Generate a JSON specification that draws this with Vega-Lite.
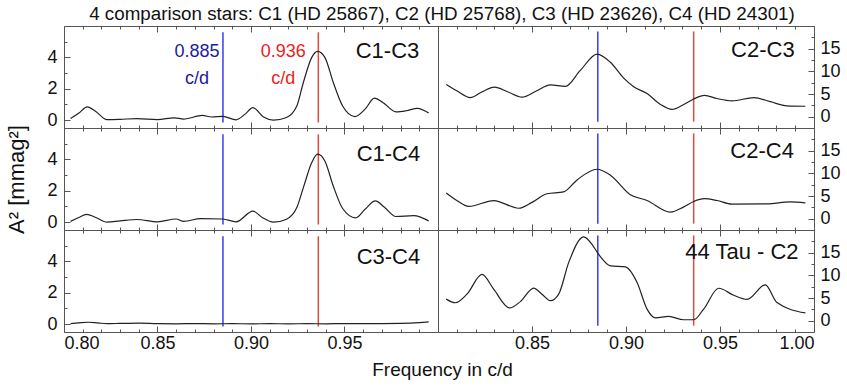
{
  "$schema": "https://vega.github.io/schema/vega-lite/v6.json",
  "background": "white",
  "padding": 5,
  "title": {"text": "4 comparison stars: C1 (HD 25867), C2 (HD 25768), C3 (HD 23626), C4 (HD 24301)", "fontSize": 18.8, "fontWeight": "normal", "font": "Liberation Sans", "color": "#111", "offset": 1, "anchor": "middle", "dx": 19},
  "columns": 2,
  "spacing": 0,
  "bounds": "flush",
  "datasets": {
    "c13": [{"f":0.8035,"a":0.10},{"f":0.808,"a":0.45},{"f":0.8124,"a":0.85},{"f":0.817,"a":0.55},{"f":0.823,"a":0.03},{"f":0.830,"a":0.05},{"f":0.839,"a":0.10},{"f":0.850,"a":0.04},{"f":0.859,"a":0.15},{"f":0.864,"a":0.07},{"f":0.874,"a":0.30},{"f":0.879,"a":0.20},{"f":0.885,"a":0.24},{"f":0.892,"a":0.02},{"f":0.897,"a":0.40},{"f":0.901,"a":0.80},{"f":0.9067,"a":0.20},{"f":0.912,"a":0.0},{"f":0.919,"a":0.17},{"f":0.9245,"a":0.9},{"f":0.928,"a":2.4},{"f":0.9325,"a":4.0},{"f":0.9356,"a":4.38},{"f":0.9395,"a":4.0},{"f":0.944,"a":2.4},{"f":0.949,"a":0.9},{"f":0.9555,"a":0.23},{"f":0.961,"a":0.7},{"f":0.966,"a":1.4},{"f":0.9705,"a":1.13},{"f":0.9775,"a":0.53},{"f":0.983,"a":0.6},{"f":0.989,"a":0.75},{"f":0.995,"a":0.45}],
    "c14": [{"f":0.8035,"a":0.05},{"f":0.808,"a":0.3},{"f":0.812,"a":0.5},{"f":0.817,"a":0.3},{"f":0.823,"a":0.0},{"f":0.830,"a":0.08},{"f":0.839,"a":0.17},{"f":0.850,"a":0.02},{"f":0.860,"a":0.2},{"f":0.864,"a":0.05},{"f":0.873,"a":0.23},{"f":0.885,"a":0.2},{"f":0.892,"a":0.02},{"f":0.901,"a":0.7},{"f":0.906,"a":0.3},{"f":0.912,"a":0.0},{"f":0.919,"a":0.19},{"f":0.9245,"a":0.93},{"f":0.928,"a":2.2},{"f":0.9325,"a":3.8},{"f":0.9356,"a":4.33},{"f":0.9395,"a":3.9},{"f":0.944,"a":2.3},{"f":0.949,"a":0.87},{"f":0.956,"a":0.27},{"f":0.961,"a":0.82},{"f":0.9665,"a":1.35},{"f":0.9715,"a":0.93},{"f":0.9775,"a":0.36},{"f":0.987,"a":0.42},{"f":0.995,"a":0.08}],
    "c34": [{"f":0.8035,"a":0.03},{"f":0.808,"a":0.08},{"f":0.813,"a":0.12},{"f":0.818,"a":0.08},{"f":0.823,"a":0.03},{"f":0.830,"a":0.05},{"f":0.840,"a":0.07},{"f":0.850,"a":0.03},{"f":0.860,"a":0.02},{"f":0.870,"a":0.04},{"f":0.880,"a":0.02},{"f":0.890,"a":0.03},{"f":0.900,"a":0.02},{"f":0.910,"a":0.03},{"f":0.920,"a":0.02},{"f":0.930,"a":0.03},{"f":0.940,"a":0.02},{"f":0.950,"a":0.04},{"f":0.960,"a":0.03},{"f":0.970,"a":0.04},{"f":0.980,"a":0.05},{"f":0.990,"a":0.10},{"f":0.995,"a":0.15}],
    "c23": [{"f":0.8044,"a":7.1},{"f":0.810,"a":5.7},{"f":0.8172,"a":4.2},{"f":0.8235,"a":5.5},{"f":0.830,"a":6.5},{"f":0.837,"a":5.5},{"f":0.8447,"a":4.3},{"f":0.852,"a":5.6},{"f":0.8598,"a":7.0},{"f":0.8677,"a":6.7},{"f":0.8757,"a":10.2},{"f":0.8846,"a":13.8},{"f":0.8917,"a":12.0},{"f":0.8988,"a":8.5},{"f":0.9041,"a":6.6},{"f":0.9112,"a":5.1},{"f":0.9183,"a":2.7},{"f":0.9245,"a":1.6},{"f":0.9307,"a":2.7},{"f":0.936,"a":3.9},{"f":0.9417,"a":4.7},{"f":0.9484,"a":4.0},{"f":0.9564,"a":3.5},{"f":0.968,"a":4.2},{"f":0.9768,"a":3.3},{"f":0.9856,"a":2.4},{"f":0.9954,"a":2.3}],
    "c24": [{"f":0.8044,"a":5.65},{"f":0.810,"a":4.0},{"f":0.8163,"a":2.7},{"f":0.8296,"a":4.0},{"f":0.8429,"a":2.3},{"f":0.850,"a":3.6},{"f":0.858,"a":5.5},{"f":0.8668,"a":5.9},{"f":0.874,"a":8.55},{"f":0.8846,"a":10.9},{"f":0.8917,"a":9.6},{"f":0.9023,"a":5.3},{"f":0.9112,"a":4.0},{"f":0.9236,"a":1.45},{"f":0.9307,"a":2.6},{"f":0.936,"a":3.8},{"f":0.9417,"a":4.4},{"f":0.9484,"a":4.0},{"f":0.9564,"a":3.2},{"f":0.975,"a":3.25},{"f":0.9874,"a":3.7},{"f":0.9954,"a":3.5}],
    "tau": [{"f":0.8044,"a":4.75},{"f":0.8092,"a":3.95},{"f":0.8154,"a":5.85},{"f":0.8234,"a":10.2},{"f":0.8296,"a":6.95},{"f":0.8381,"a":2.8},{"f":0.8438,"a":4.2},{"f":0.8509,"a":7.2},{"f":0.8553,"a":5.85},{"f":0.8598,"a":4.4},{"f":0.8642,"a":5.85},{"f":0.8695,"a":12.8},{"f":0.8775,"a":18.5},{"f":0.882,"a":16.8},{"f":0.8855,"a":14.6},{"f":0.8917,"a":12.1},{"f":0.8997,"a":11.85},{"f":0.9059,"a":8.4},{"f":0.9112,"a":2.55},{"f":0.9157,"a":0.6},{"f":0.9227,"a":0.95},{"f":0.9307,"a":0.2},{"f":0.936,"a":0.2},{"f":0.9413,"a":2.55},{"f":0.9493,"a":7.15},{"f":0.9573,"a":5.6},{"f":0.9644,"a":4.7},{"f":0.9741,"a":7.9},{"f":0.9803,"a":4.0},{"f":0.9954,"a":1.7}],
    "vL": [{"f":0.885,"lo":-0.15,"hi":5.6},{"f":0.936,"lo":-0.15,"hi":5.6}],
    "vR": [{"f":0.885,"lo":-1.1,"hi":18.8},{"f":0.936,"lo":-1.1,"hi":18.8}],
    "ann": [{"f":0.8711,"a":4.35,"t":"0.885","c":"b"},{"f":0.8711,"a":2.6,"t":"c/d","c":"b"},{"f":0.9172,"a":4.35,"t":"0.936","c":"r"},{"f":0.9172,"a":2.6,"t":"c/d","c":"r"}]
  },
  "concat": [
    {
      "width": 374, "height": 102,
      "layer": [
        {"data": {"name": "vL"}, "transform": [{"filter": "datum.f < 0.9"}], "mark": {"type": "rule", "strokeWidth": 1.5, "color": "#3b3bf0"},
         "encoding": {
           "x": {"field": "f", "type": "quantitative", "scale": {"domain": [0.8, 1.0], "nice": false, "zero": false}, "axis": {"orient": "top", "values": [0.81,0.82,0.83,0.84,0.86,0.87,0.88,0.89,0.91,0.92,0.93,0.94,0.96,0.97,0.98,0.99], "labels": false, "title": null, "tickSize": -3}},
           "y": {"field": "lo", "type": "quantitative", "scale": {"domain": [-0.5, 6], "nice": false, "zero": false}, "axis": {"orient": "left", "values": [1,3,5], "labels": false, "title": null, "tickSize": -3}},
           "y2": {"field": "hi"}}},
        {"data": {"name": "vL"}, "transform": [{"filter": "datum.f > 0.9"}], "mark": {"type": "rule", "strokeWidth": 1.5, "color": "#e04a40"},
         "encoding": {
           "x": {"field": "f", "type": "quantitative", "scale": {"domain": [0.8, 1.0], "nice": false, "zero": false}, "axis": {"orient": "top", "values": [0.8,0.85,0.9,0.95,1.0], "labels": false, "title": null, "tickSize": -6}},
           "y": {"field": "lo", "type": "quantitative", "scale": {"domain": [-0.5, 6], "nice": false, "zero": false}, "axis": {"orient": "left", "values": [0,2,4], "labels": false, "title": null, "tickSize": -6}},
           "y2": {"field": "hi"}}},
        {"data": {"name": "c13"}, "mark": {"type": "line", "color": "#222", "strokeWidth": 1.2, "interpolate": "monotone"},
         "encoding": {
           "x": {"field": "f", "type": "quantitative", "scale": {"domain": [0.8, 1.0], "nice": false, "zero": false}, "axis": {"orient": "bottom", "values": [0.8,0.85,0.9,0.95,1.0], "labels": false, "title": null, "tickSize": -6}},
           "y": {"field": "a", "type": "quantitative", "scale": {"domain": [-0.5, 6], "nice": false, "zero": false}, "axis": {"orient": "left", "values": [0,2,4], "title": null, "ticks": false, "labelFontSize": 18, "labelPadding": 7}}}},
        {"data": {"name": "ann"}, "transform": [{"filter": "datum.c == 'b'"}], "mark": {"type": "text", "align": "center", "baseline": "middle", "fontSize": 18, "color": "#1c1ca0"},
         "encoding": {"x": {"field": "f", "type": "quantitative", "scale": {"domain": [0.8, 1.0], "nice": false, "zero": false}, "axis": null}, "y": {"field": "a", "type": "quantitative", "scale": {"domain": [-0.5, 6], "nice": false, "zero": false}, "axis": null}, "text": {"field": "t"}}},
        {"data": {"name": "ann"}, "transform": [{"filter": "datum.c == 'r'"}], "mark": {"type": "text", "align": "center", "baseline": "middle", "fontSize": 18, "color": "#ee1c1c"},
         "encoding": {"x": {"field": "f", "type": "quantitative", "scale": {"domain": [0.8, 1.0], "nice": false, "zero": false}, "axis": null}, "y": {"field": "a", "type": "quantitative", "scale": {"domain": [-0.5, 6], "nice": false, "zero": false}, "axis": null}, "text": {"field": "t"}}},
        {"data": {"values": [{"f": 0.990, "a": 4.4, "t": "C1-C3"}]}, "mark": {"type": "text", "align": "right", "baseline": "middle", "fontSize": 22, "color": "#111"},
         "encoding": {"x": {"field": "f", "type": "quantitative", "scale": {"domain": [0.8, 1.0], "nice": false, "zero": false}, "axis": {"orient": "bottom", "values": [0.81,0.82,0.83,0.84,0.86,0.87,0.88,0.89,0.91,0.92,0.93,0.94,0.96,0.97,0.98,0.99], "labels": false, "title": null, "tickSize": -3}}, "y": {"field": "a", "type": "quantitative", "scale": {"domain": [-0.5, 6], "nice": false, "zero": false}, "axis": null}, "text": {"field": "t"}}}
      ],
      "resolve": {"axis": {"x": "independent", "y": "independent"}}
    },
    {
      "width": 376, "height": 102,
      "layer": [
        {"data": {"name": "vR"}, "transform": [{"filter": "datum.f < 0.9"}], "mark": {"type": "rule", "strokeWidth": 1.5, "color": "#3b3bf0"},
         "encoding": {
           "x": {"field": "f", "type": "quantitative", "scale": {"domain": [0.8, 1.0], "nice": false, "zero": false}, "axis": {"orient": "top", "values": [0.81,0.82,0.83,0.84,0.86,0.87,0.88,0.89,0.91,0.92,0.93,0.94,0.96,0.97,0.98,0.99], "labels": false, "title": null, "tickSize": -3}},
           "y": {"field": "lo", "type": "quantitative", "scale": {"domain": [-2.5, 20], "nice": false, "zero": false}, "axis": {"orient": "right", "values": [2.5,7.5,12.5,17.5], "labels": false, "title": null, "tickSize": -3}},
           "y2": {"field": "hi"}}},
        {"data": {"name": "vR"}, "transform": [{"filter": "datum.f > 0.9"}], "mark": {"type": "rule", "strokeWidth": 1.5, "color": "#e04a40"},
         "encoding": {
           "x": {"field": "f", "type": "quantitative", "scale": {"domain": [0.8, 1.0], "nice": false, "zero": false}, "axis": {"orient": "top", "values": [0.8,0.85,0.9,0.95,1.0], "labels": false, "title": null, "tickSize": -6}},
           "y": {"field": "lo", "type": "quantitative", "scale": {"domain": [-2.5, 20], "nice": false, "zero": false}, "axis": {"orient": "right", "values": [0,5,10,15], "labels": false, "title": null, "tickSize": -6}},
           "y2": {"field": "hi"}}},
        {"data": {"name": "c23"}, "mark": {"type": "line", "color": "#222", "strokeWidth": 1.2, "interpolate": "monotone"},
         "encoding": {
           "x": {"field": "f", "type": "quantitative", "scale": {"domain": [0.8, 1.0], "nice": false, "zero": false}, "axis": {"orient": "bottom", "values": [0.8,0.85,0.9,0.95,1.0], "labels": false, "title": null, "tickSize": -6}},
           "y": {"field": "a", "type": "quantitative", "scale": {"domain": [-2.5, 20], "nice": false, "zero": false}, "axis": {"orient": "right", "values": [0,5,10,15], "title": null, "ticks": false, "labelFontSize": 18, "labelPadding": 6}}}},
        {"data": {"values": [{"f": 0.9897, "a": 14.8, "t": "C2-C3"}]}, "mark": {"type": "text", "align": "right", "baseline": "middle", "fontSize": 22, "color": "#111"},
         "encoding": {"x": {"field": "f", "type": "quantitative", "scale": {"domain": [0.8, 1.0], "nice": false, "zero": false}, "axis": {"orient": "bottom", "values": [0.81,0.82,0.83,0.84,0.86,0.87,0.88,0.89,0.91,0.92,0.93,0.94,0.96,0.97,0.98,0.99], "labels": false, "title": null, "tickSize": -3}}, "y": {"field": "a", "type": "quantitative", "scale": {"domain": [-2.5, 20], "nice": false, "zero": false}, "axis": null}, "text": {"field": "t"}}}
      ],
      "resolve": {"axis": {"x": "independent", "y": "independent"}}
    },
    {
      "width": 374, "height": 102,
      "layer": [
        {"data": {"name": "vL"}, "transform": [{"filter": "datum.f < 0.9"}], "mark": {"type": "rule", "strokeWidth": 1.5, "color": "#3b3bf0"},
         "encoding": {
           "x": {"field": "f", "type": "quantitative", "scale": {"domain": [0.8, 1.0], "nice": false, "zero": false}, "axis": {"orient": "top", "values": [0.81,0.82,0.83,0.84,0.86,0.87,0.88,0.89,0.91,0.92,0.93,0.94,0.96,0.97,0.98,0.99], "labels": false, "title": null, "tickSize": -3}},
           "y": {"field": "lo", "type": "quantitative", "scale": {"domain": [-0.5, 6], "nice": false, "zero": false}, "axis": {"orient": "left", "values": [1,3,5], "labels": false, "title": null, "tickSize": -3}},
           "y2": {"field": "hi"}}},
        {"data": {"name": "vL"}, "transform": [{"filter": "datum.f > 0.9"}], "mark": {"type": "rule", "strokeWidth": 1.5, "color": "#e04a40"},
         "encoding": {
           "x": {"field": "f", "type": "quantitative", "scale": {"domain": [0.8, 1.0], "nice": false, "zero": false}, "axis": {"orient": "top", "values": [0.8,0.85,0.9,0.95,1.0], "labels": false, "title": null, "tickSize": -6}},
           "y": {"field": "lo", "type": "quantitative", "scale": {"domain": [-0.5, 6], "nice": false, "zero": false}, "axis": {"orient": "left", "values": [0,2,4], "labels": false, "title": null, "tickSize": -6}},
           "y2": {"field": "hi"}}},
        {"data": {"name": "c14"}, "mark": {"type": "line", "color": "#222", "strokeWidth": 1.2, "interpolate": "monotone"},
         "encoding": {
           "x": {"field": "f", "type": "quantitative", "scale": {"domain": [0.8, 1.0], "nice": false, "zero": false}, "axis": {"orient": "bottom", "values": [0.8,0.85,0.9,0.95,1.0], "labels": false, "title": null, "tickSize": -6}},
           "y": {"field": "a", "type": "quantitative", "scale": {"domain": [-0.5, 6], "nice": false, "zero": false}, "axis": {"orient": "left", "values": [0,2,4], "title": "A² [mmag²]", "titleFontSize": 22, "titleFontWeight": "normal", "titlePadding": 18, "ticks": false, "labelFontSize": 18, "labelPadding": 7}}}},
        {"data": {"values": [{"f": 0.9905, "a": 4.33, "t": "C1-C4"}]}, "mark": {"type": "text", "align": "right", "baseline": "middle", "fontSize": 22, "color": "#111"},
         "encoding": {"x": {"field": "f", "type": "quantitative", "scale": {"domain": [0.8, 1.0], "nice": false, "zero": false}, "axis": {"orient": "bottom", "values": [0.81,0.82,0.83,0.84,0.86,0.87,0.88,0.89,0.91,0.92,0.93,0.94,0.96,0.97,0.98,0.99], "labels": false, "title": null, "tickSize": -3}}, "y": {"field": "a", "type": "quantitative", "scale": {"domain": [-0.5, 6], "nice": false, "zero": false}, "axis": null}, "text": {"field": "t"}}}
      ],
      "resolve": {"axis": {"x": "independent", "y": "independent"}}
    },
    {
      "width": 376, "height": 102,
      "layer": [
        {"data": {"name": "vR"}, "transform": [{"filter": "datum.f < 0.9"}], "mark": {"type": "rule", "strokeWidth": 1.5, "color": "#3b3bf0"},
         "encoding": {
           "x": {"field": "f", "type": "quantitative", "scale": {"domain": [0.8, 1.0], "nice": false, "zero": false}, "axis": {"orient": "top", "values": [0.81,0.82,0.83,0.84,0.86,0.87,0.88,0.89,0.91,0.92,0.93,0.94,0.96,0.97,0.98,0.99], "labels": false, "title": null, "tickSize": -3}},
           "y": {"field": "lo", "type": "quantitative", "scale": {"domain": [-2.5, 20], "nice": false, "zero": false}, "axis": {"orient": "right", "values": [2.5,7.5,12.5,17.5], "labels": false, "title": null, "tickSize": -3}},
           "y2": {"field": "hi"}}},
        {"data": {"name": "vR"}, "transform": [{"filter": "datum.f > 0.9"}], "mark": {"type": "rule", "strokeWidth": 1.5, "color": "#e04a40"},
         "encoding": {
           "x": {"field": "f", "type": "quantitative", "scale": {"domain": [0.8, 1.0], "nice": false, "zero": false}, "axis": {"orient": "top", "values": [0.8,0.85,0.9,0.95,1.0], "labels": false, "title": null, "tickSize": -6}},
           "y": {"field": "lo", "type": "quantitative", "scale": {"domain": [-2.5, 20], "nice": false, "zero": false}, "axis": {"orient": "right", "values": [0,5,10,15], "labels": false, "title": null, "tickSize": -6}},
           "y2": {"field": "hi"}}},
        {"data": {"name": "c24"}, "mark": {"type": "line", "color": "#222", "strokeWidth": 1.2, "interpolate": "monotone"},
         "encoding": {
           "x": {"field": "f", "type": "quantitative", "scale": {"domain": [0.8, 1.0], "nice": false, "zero": false}, "axis": {"orient": "bottom", "values": [0.8,0.85,0.9,0.95,1.0], "labels": false, "title": null, "tickSize": -6}},
           "y": {"field": "a", "type": "quantitative", "scale": {"domain": [-2.5, 20], "nice": false, "zero": false}, "axis": {"orient": "right", "values": [0,5,10,15], "title": null, "ticks": false, "labelFontSize": 18, "labelPadding": 6}}}},
        {"data": {"values": [{"f": 0.9893, "a": 14.9, "t": "C2-C4"}]}, "mark": {"type": "text", "align": "right", "baseline": "middle", "fontSize": 22, "color": "#111"},
         "encoding": {"x": {"field": "f", "type": "quantitative", "scale": {"domain": [0.8, 1.0], "nice": false, "zero": false}, "axis": {"orient": "bottom", "values": [0.81,0.82,0.83,0.84,0.86,0.87,0.88,0.89,0.91,0.92,0.93,0.94,0.96,0.97,0.98,0.99], "labels": false, "title": null, "tickSize": -3}}, "y": {"field": "a", "type": "quantitative", "scale": {"domain": [-2.5, 20], "nice": false, "zero": false}, "axis": null}, "text": {"field": "t"}}}
      ],
      "resolve": {"axis": {"x": "independent", "y": "independent"}}
    },
    {
      "width": 374, "height": 102,
      "layer": [
        {"data": {"name": "vL"}, "transform": [{"filter": "datum.f < 0.9"}], "mark": {"type": "rule", "strokeWidth": 1.5, "color": "#3b3bf0"},
         "encoding": {
           "x": {"field": "f", "type": "quantitative", "scale": {"domain": [0.8, 1.0], "nice": false, "zero": false}, "axis": {"orient": "top", "values": [0.81,0.82,0.83,0.84,0.86,0.87,0.88,0.89,0.91,0.92,0.93,0.94,0.96,0.97,0.98,0.99], "labels": false, "title": null, "tickSize": -3}},
           "y": {"field": "lo", "type": "quantitative", "scale": {"domain": [-0.5, 6], "nice": false, "zero": false}, "axis": {"orient": "left", "values": [1,3,5], "labels": false, "title": null, "tickSize": -3}},
           "y2": {"field": "hi"}}},
        {"data": {"name": "vL"}, "transform": [{"filter": "datum.f > 0.9"}], "mark": {"type": "rule", "strokeWidth": 1.5, "color": "#e04a40"},
         "encoding": {
           "x": {"field": "f", "type": "quantitative", "scale": {"domain": [0.8, 1.0], "nice": false, "zero": false}, "axis": {"orient": "top", "values": [0.8,0.85,0.9,0.95,1.0], "labels": false, "title": null, "tickSize": -6}},
           "y": {"field": "lo", "type": "quantitative", "scale": {"domain": [-0.5, 6], "nice": false, "zero": false}, "axis": {"orient": "left", "values": [0,2,4], "labels": false, "title": null, "tickSize": -6}},
           "y2": {"field": "hi"}}},
        {"data": {"name": "c34"}, "mark": {"type": "line", "color": "#222", "strokeWidth": 1.2, "interpolate": "monotone"},
         "encoding": {
           "x": {"field": "f", "type": "quantitative", "scale": {"domain": [0.8, 1.0], "nice": false, "zero": false}, "axis": {"orient": "bottom", "values": [0.8,0.85,0.9,0.95], "format": ".2f", "labelFontSize": 18, "labelPadding": 8, "title": "Frequency in c/d", "titleFontSize": 19, "titleFontWeight": "normal", "titleX": 378, "titleAlign": "center", "titlePadding": 8, "tickSize": -6}},
           "y": {"field": "a", "type": "quantitative", "scale": {"domain": [-0.5, 6], "nice": false, "zero": false}, "axis": {"orient": "left", "values": [0,2,4], "title": null, "ticks": false, "labelFontSize": 18, "labelPadding": 7}}}},
        {"data": {"values": [{"f": 0.9905, "a": 4.3, "t": "C3-C4"}]}, "mark": {"type": "text", "align": "right", "baseline": "middle", "fontSize": 22, "color": "#111"},
         "encoding": {"x": {"field": "f", "type": "quantitative", "scale": {"domain": [0.8, 1.0], "nice": false, "zero": false}, "axis": {"orient": "bottom", "values": [0.81,0.82,0.83,0.84,0.86,0.87,0.88,0.89,0.91,0.92,0.93,0.94,0.96,0.97,0.98,0.99], "labels": false, "title": null, "tickSize": -3}}, "y": {"field": "a", "type": "quantitative", "scale": {"domain": [-0.5, 6], "nice": false, "zero": false}, "axis": null}, "text": {"field": "t"}}}
      ],
      "resolve": {"axis": {"x": "independent", "y": "independent"}}
    },
    {
      "width": 376, "height": 102,
      "layer": [
        {"data": {"name": "vR"}, "transform": [{"filter": "datum.f < 0.9"}], "mark": {"type": "rule", "strokeWidth": 1.5, "color": "#3b3bf0"},
         "encoding": {
           "x": {"field": "f", "type": "quantitative", "scale": {"domain": [0.8, 1.0], "nice": false, "zero": false}, "axis": {"orient": "top", "values": [0.81,0.82,0.83,0.84,0.86,0.87,0.88,0.89,0.91,0.92,0.93,0.94,0.96,0.97,0.98,0.99], "labels": false, "title": null, "tickSize": -3}},
           "y": {"field": "lo", "type": "quantitative", "scale": {"domain": [-2.5, 20], "nice": false, "zero": false}, "axis": {"orient": "right", "values": [2.5,7.5,12.5,17.5], "labels": false, "title": null, "tickSize": -3}},
           "y2": {"field": "hi"}}},
        {"data": {"name": "vR"}, "transform": [{"filter": "datum.f > 0.9"}], "mark": {"type": "rule", "strokeWidth": 1.5, "color": "#e04a40"},
         "encoding": {
           "x": {"field": "f", "type": "quantitative", "scale": {"domain": [0.8, 1.0], "nice": false, "zero": false}, "axis": {"orient": "top", "values": [0.8,0.85,0.9,0.95,1.0], "labels": false, "title": null, "tickSize": -6}},
           "y": {"field": "lo", "type": "quantitative", "scale": {"domain": [-2.5, 20], "nice": false, "zero": false}, "axis": {"orient": "right", "values": [0,5,10,15], "labels": false, "title": null, "tickSize": -6}},
           "y2": {"field": "hi"}}},
        {"data": {"name": "tau"}, "mark": {"type": "line", "color": "#222", "strokeWidth": 1.2, "interpolate": "monotone"},
         "encoding": {
           "x": {"field": "f", "type": "quantitative", "scale": {"domain": [0.8, 1.0], "nice": false, "zero": false}, "axis": {"orient": "bottom", "values": [0.85,0.9,0.95,1.0], "format": ".2f", "labelFontSize": 18, "labelPadding": 8, "title": null, "tickSize": -6}},
           "y": {"field": "a", "type": "quantitative", "scale": {"domain": [-2.5, 20], "nice": false, "zero": false}, "axis": {"orient": "right", "values": [0,5,10,15], "title": null, "ticks": false, "labelFontSize": 18, "labelPadding": 6}}}},
        {"data": {"values": [{"f": 0.9918, "a": 15.1, "t": "44 Tau - C2"}]}, "mark": {"type": "text", "align": "right", "baseline": "middle", "fontSize": 22, "color": "#111"},
         "encoding": {"x": {"field": "f", "type": "quantitative", "scale": {"domain": [0.8, 1.0], "nice": false, "zero": false}, "axis": {"orient": "bottom", "values": [0.81,0.82,0.83,0.84,0.86,0.87,0.88,0.89,0.91,0.92,0.93,0.94,0.96,0.97,0.98,0.99], "labels": false, "title": null, "tickSize": -3}}, "y": {"field": "a", "type": "quantitative", "scale": {"domain": [-2.5, 20], "nice": false, "zero": false}, "axis": null}, "text": {"field": "t"}}}
      ],
      "resolve": {"axis": {"x": "independent", "y": "independent"}}
    }
  ],
  "config": {
    "font": "Liberation Sans",
    "view": {"stroke": "#555", "strokeWidth": 1},
    "axis": {"domain": false, "grid": false, "tickColor": "#555", "tickWidth": 1, "labelColor": "#111", "titleColor": "#111", "labelFont": "Liberation Sans", "titleFont": "Liberation Sans", "titleFontWeight": "normal"},
    "text": {"font": "Liberation Sans"}
  }
}
